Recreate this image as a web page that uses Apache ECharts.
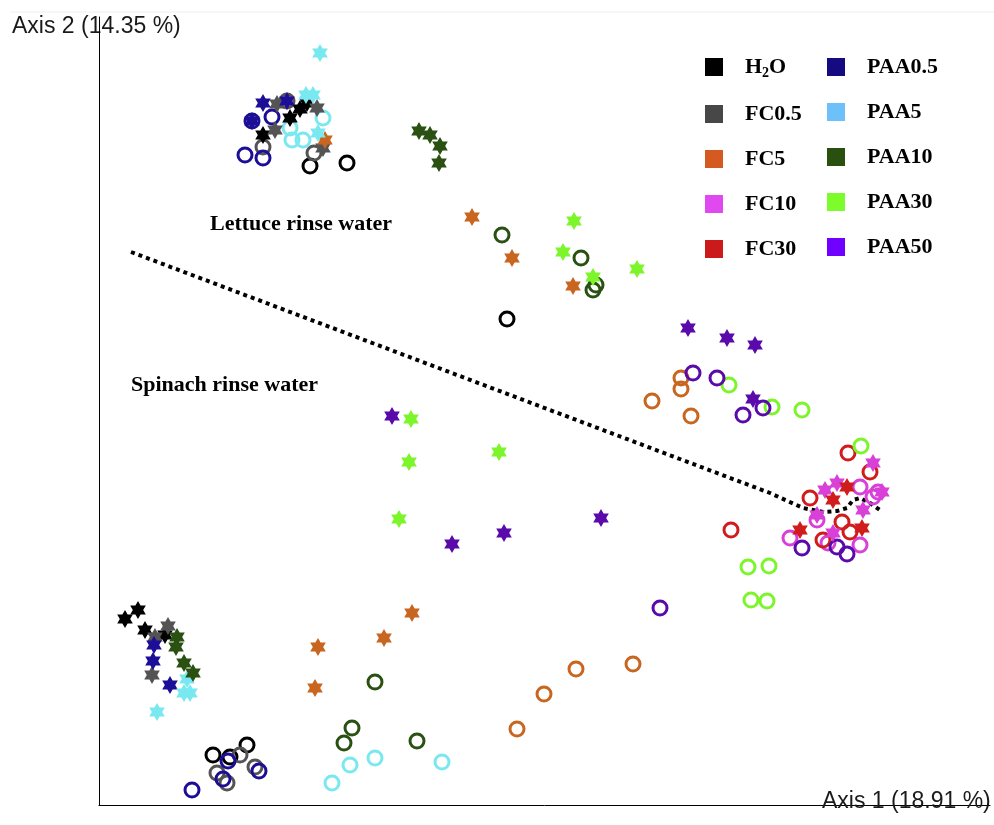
<!DOCTYPE html>
<html>
<head>
<meta charset="utf-8">
<script src="https://cdn.jsdelivr.net/npm/echarts@6/dist/echarts.min.js"></script>
<style>html,body{margin:0;padding:0;background:#fff;}#c{width:994px;height:825px;}</style>
</head>
<body>
<div id="c"></div>
<script>
// Categories (treatments)
const categories = ['H2O','FC0.5','FC5','FC10','FC30','PAA0.5','PAA5','PAA10','PAA30','PAA50'];
const pointColors = ['#000000','#545454','#c8651f','#d840d8','#d01c1c','#1c0e96','#7ae8f0','#2a5012','#7cf52a','#5a0aaa'];
const legendColors = ['#000000','#474747','#d45a22','#e048f0','#cc1a1a','#160a80','#6ec0f8','#2a5010','#7cfc2a','#7000ff'];

// Axis titles
const xTitle = 'Axis 1 (18.91 %)';
const yTitle = 'Axis 2 (14.35 %)';

// Scores (Axis 1, Axis 2) — stars and rings per treatment
const h2oStars   = [[20.8,70.2],[20.1,69.6],[19.1,68.7],[16.4,67.0],[2.6,18.6],[3.9,19.5],[4.6,17.5],[6.6,17.0]];
const h2oRings   = [[21.1,63.9],[24.8,64.2],[40.8,48.6],[11.4,5.0],[13.1,4.8],[14.8,6.0]];
const fc05Stars  = [[17.8,70.1],[17.6,67.5],[21.8,69.7],[22.4,65.7],[6.9,17.9],[5.6,16.8],[5.3,13.0]];
const fc05Rings  = [[18.8,70.4],[16.4,65.8],[21.5,65.2],[14.1,5.0],[11.8,3.2],[12.8,2.2],[15.6,3.8]];
const fc5Stars   = [[22.6,66.5],[37.3,58.8],[41.3,54.7],[47.4,51.9],[31.3,19.2],[28.5,16.7],[21.9,15.8],[21.6,11.7]];
const fc5Rings   = [[58.2,42.7],[58.2,41.6],[55.3,40.4],[59.2,38.9],[41.8,7.6],[44.5,11.1],[47.7,13.6],[53.4,14.1]];
const fc10Stars  = [[77.4,34.2],[72.6,31.5],[73.8,32.2],[78.3,31.3],[76.4,29.5],[73.4,27.2],[71.8,29.0]];
const fc10Rings  = [[76.1,31.8],[77.9,31.3],[77.4,30.8],[71.8,28.5],[69.1,26.7],[72.9,26.2],[76.1,26.0]];
const fc30Stars  = [[74.8,31.8],[73.4,30.5],[70.1,27.5],[76.3,27.7]];
const fc30Rings  = [[74.9,35.2],[77.1,33.3],[71.1,30.7],[74.3,28.3],[75.1,27.3],[72.4,26.5],[63.2,27.5]];
const paa05Stars = [[16.4,70.2],[18.8,70.4],[15.3,68.4],[5.5,16.0],[5.4,14.4],[7.1,12.0]];
const paa05Rings = [[15.3,68.4],[17.3,68.8],[14.6,65.0],[16.4,64.7],[12.9,4.4],[12.4,2.6],[16.0,3.4],[9.3,1.5]];
const paa5Stars  = [[22.1,75.2],[20.7,71.0],[21.4,71.0],[21.9,67.2],[8.8,12.6],[8.5,11.2],[9.1,11.2],[5.8,9.3]];
const paa5Rings  = [[22.4,68.7],[19.1,67.7],[19.3,66.5],[20.4,66.5],[27.6,4.7],[25.1,4.0],[23.3,2.2],[34.3,4.3]];
const paa10Stars = [[32.0,67.4],[33.1,67.0],[34.1,65.9],[34.0,64.2],[7.8,16.8],[7.7,15.8],[8.5,14.2],[9.4,13.2]];
const paa10Rings = [[40.3,57.0],[48.2,54.7],[49.7,52.0],[49.4,51.5],[27.6,12.3],[25.3,7.7],[24.5,6.2],[31.8,6.4]];
const paa30Stars = [[47.5,58.4],[46.4,55.3],[49.4,52.8],[53.8,53.6],[31.2,38.6],[31.0,34.3],[40.0,35.3],[30.0,28.6]];
const paa30Rings = [[63.0,42.0],[67.3,39.8],[70.3,39.5],[76.2,35.9],[64.9,23.8],[67.0,23.9],[65.2,20.5],[66.8,20.4]];
const paa50Stars = [[58.9,47.7],[62.8,46.7],[65.6,46.0],[65.4,40.6],[29.3,38.9],[35.3,26.1],[40.5,27.2],[50.2,28.7]];
const paa50Rings = [[59.4,43.2],[61.8,42.7],[64.4,39.0],[66.4,39.7],[70.3,25.7],[73.8,25.8],[74.8,25.1],[56.1,19.7]];

// Dotted separator between lettuce and spinach rinse water
const separator = [[3.2,55.3],[67.1,31.2],[70.4,29.7],[71.4,29.5],[72.4,29.3],[73.8,29.4],[74.8,29.7],[75.4,30.5],[76.1,30.7],[77.1,30.2],[78.1,29.5]];

const starGroups = [h2oStars,fc05Stars,fc5Stars,fc10Stars,fc30Stars,paa05Stars,paa5Stars,paa10Stars,paa30Stars,paa50Stars];
const ringGroups = [h2oRings,fc05Rings,fc5Rings,fc10Rings,fc30Rings,paa05Rings,paa5Rings,paa10Rings,paa30Rings,paa50Rings];

const starPath = 'path://M0,-10L2.887,-5L8.660,-5L5.774,0L8.660,5L2.887,5L0,10L-2.887,5L-8.660,5L-5.774,0L-8.660,-5L-2.887,-5Z';

const series = [];
series.push({
  type: 'line', data: separator, showSymbol: false, symbol: 'none', silent: true, z: 1,
  lineStyle: { color: '#000', width: 4, type: [4, 4], cap: 'butt' }
});
categories.forEach((name, i) => {
  series.push({
    name, type: 'scatter', data: starGroups[i], symbol: starPath, symbolKeepAspect: true,
    symbolSize: 18, z: 3,
    itemStyle: { color: pointColors[i], opacity: 1 }
  });
  series.push({
    name, type: 'scatter', data: ringGroups[i], symbol: 'circle', symbolSize: 14, z: 2,
    itemStyle: { color: 'rgba(255,255,255,0)', borderColor: pointColors[i], borderWidth: 3, opacity: 1 }
  });
});

const serifFont = '"Liberation Serif","Times New Roman",serif';
const legendText = {
  fontFamily: serifFont, fontWeight: 'bold', fontSize: 22,
  color: '#000', padding: [0, 0, 0, 17],
  rich: {
    a: { fontFamily: serifFont, fontWeight: 'bold', fontSize: 22, color: '#000' },
    b: { fontFamily: serifFont, fontWeight: 'bold', fontSize: 14, color: '#000', padding: [12, 0, 0, 0] }
  }
};
function legendData(from, to) {
  return categories.slice(from, to).map((n, k) => ({
    name: n, icon: 'rect', itemStyle: { color: legendColors[from + k], borderWidth: 0 }
  }));
}
const legendFormatter = n => n === 'H2O' ? '{a|H}{b|2}{a|O}' : n;

const chart = echarts.init(document.getElementById('c'));
chart.setOption({
  animation: false,
  backgroundColor: '#fff',
  grid: { left: 99, top: 17, right: 4, bottom: 20 },
  xAxis: {
    type: 'value', min: 0, max: 89.1,
    axisLine: { show: true, onZero: false, lineStyle: { color: '#000', width: 1 } },
    axisTick: { show: false }, axisLabel: { show: false }, splitLine: { show: false }
  },
  yAxis: {
    type: 'value', min: 0, max: 78.8,
    axisLine: { show: true, onZero: false, lineStyle: { color: '#000', width: 1 } },
    axisTick: { show: false }, axisLabel: { show: false }, splitLine: { show: false }
  },
  legend: [
    { orient: 'vertical', left: 700, top: 51, itemWidth: 18, itemHeight: 18, itemGap: 23,
      selectedMode: false, data: legendData(0, 5), textStyle: legendText, formatter: legendFormatter },
    { orient: 'vertical', left: 822, top: 51, itemWidth: 18, itemHeight: 18, itemGap: 23,
      selectedMode: false, data: legendData(5, 10), textStyle: legendText, formatter: legendFormatter }
  ],
  graphic: [
    { type: 'line', shape: { x1: 10, y1: 12, x2: 994, y2: 12 }, style: { stroke: '#eeeeee', lineWidth: 1 }, silent: true },
    { type: 'text', x: 12, y: 27, style: { text: yTitle, font: '23px "Liberation Sans", Arial, sans-serif', fill: '#1a1a1a', verticalAlign: 'middle' } },
    { type: 'text', x: 822, y: 802, z: 10, style: { text: xTitle, font: '23px "Liberation Sans", Arial, sans-serif', fill: '#1a1a1a', verticalAlign: 'middle' } },
    { type: 'text', x: 210, y: 224, style: { text: 'Lettuce rinse water', font: 'bold 22px "Liberation Serif","Times New Roman",serif', fill: '#000', verticalAlign: 'middle' } },
    { type: 'text', x: 131, y: 385, style: { text: 'Spinach rinse water', font: 'bold 22px "Liberation Serif","Times New Roman",serif', fill: '#000', verticalAlign: 'middle' } }
  ],
  series
});
</script>
</body>
</html>
